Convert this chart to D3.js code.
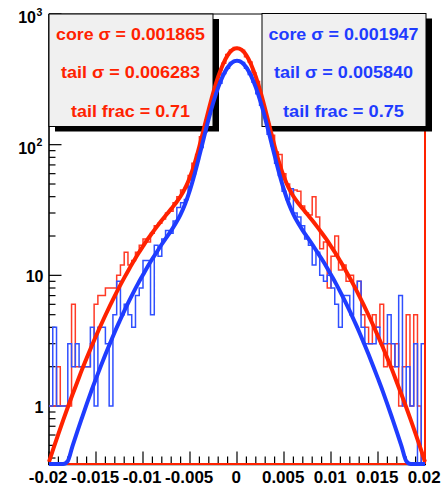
<!DOCTYPE html>
<html>
<head>
<meta charset="utf-8">
<script src="https://cdn.jsdelivr.net/npm/d3@7"></script>
<style>
  body { margin: 0; background: #fff; }
  svg { display: block; }
  text { font-family: "Liberation Sans", Arial, Helvetica, sans-serif; font-weight: bold; }
</style>
</head>
<body>
<svg id="chart" width="445" height="488"></svg>
<script>
// Residual distributions: two histograms (100 bins, -0.02..0.02) with double-Gaussian fits.
const binLow = -0.02;
const binWidth = 0.0004;

const redCounts = [
  1, 1, 2, 1, 1, 1, 6, 2, 2, 2,
  2, 3, 6, 7, 7, 8, 8, 8, 10, 12,
  15, 12, 13, 15, 17, 19, 18, 21, 24, 25,
  27, 30, 31, 36, 40, 45, 47, 58, 72, 84,
  115, 140, 190, 235, 300, 370, 420, 490, 530, 555,
  540, 528, 470, 430, 355, 305, 235, 190, 140, 118,
  88, 84, 60, 50, 42, 45, 44, 34, 30, 29,
  40, 28, 16, 18, 8, 14, 20, 11, 12, 9,
  10, 8, 9, 5, 4, 3, 5, 4, 6, 2,
  3, 2, 3, 1, 2, 5, 1, 5, 1, 0
];

const blueCounts = [
  1, 4, 1, 1, 1, 3, 2, 3, 2, 2,
  2, 4, 1, 4, 4, 3, 1, 5, 9, 5,
  6, 5, 4, 7, 8, 13, 13, 5, 17, 14,
  19, 22, 21, 26, 33, 36, 38, 54, 60, 78,
  95, 125, 155, 205, 255, 295, 350, 385, 425, 440,
  440, 425, 385, 345, 300, 245, 200, 160, 120, 98,
  72, 58, 44, 38, 46, 30, 28, 24, 19, 17,
  12, 15, 10, 9, 10, 8, 6, 4, 7, 7,
  5, 8, 9, 4, 3, 3, 3, 4, 3, 3,
  5, 3, 2, 7, 1, 2, 1, 3, 0, 3
];

// Fit curves sampled every 0.0005 from -0.02 to 0.02
const fitStep = 0.0005;
const redFit = [
  0.374, 0.48, 0.613, 0.777, 0.979, 1.225, 1.52, 1.89, 2.32, 2.83,
  3.43, 4.13, 4.95, 5.89, 6.97, 8.19, 9.56, 11.1, 12.8, 14.7,
  16.7, 18.9, 21.2, 23.7, 26.4, 29.2, 32.3, 35.8, 40.3, 46.7,
  56.6, 72.4, 97.4, 135, 187, 254, 331, 411, 482, 531,
  548,
  531, 482, 411, 331, 254, 187, 135, 97.4, 72.4, 56.6,
  46.7, 40.3, 35.8, 32.3, 29.2, 26.4, 23.7, 21.2, 18.9, 16.7,
  14.7, 12.8, 11.1, 9.56, 8.19, 6.97, 5.89, 4.95, 4.13, 3.43,
  2.83, 2.32, 1.89, 1.52, 1.225, 0.979, 0.777, 0.613, 0.48, 0.374
];
const blueFit = [
  0.125, 0.165, 0.22, 0.291, 0.38, 0.494, 0.635, 0.81, 1.03, 1.30,
  1.62, 2.01, 2.48, 3.03, 3.69, 4.44, 5.32, 6.32, 7.45, 8.72,
  10.1, 11.7, 13.4, 15.2, 17.3, 19.5, 22.0, 25.1, 29.3, 35.5,
  45.1, 60.0, 82.6, 115, 159, 213, 274.5, 336, 389.5, 426,
  439,
  426, 389.5, 336, 274.5, 213, 159, 115, 82.6, 60.0, 45.1,
  35.5, 29.3, 25.1, 22.0, 19.5, 17.3, 15.2, 13.4, 11.7, 10.1,
  8.72, 7.45, 6.32, 5.32, 4.44, 3.69, 3.03, 2.48, 2.01, 1.62,
  1.30, 1.03, 0.81, 0.635, 0.494, 0.38, 0.291, 0.22, 0.165, 0.125
];

const redLegend = ["core \u03c3 = 0.001865", "tail \u03c3 = 0.006283", "tail frac = 0.71"];
const blueLegend = ["core \u03c3 = 0.001947", "tail \u03c3 = 0.005840", "tail frac = 0.75"];

const xTicks = [-0.02, -0.015, -0.01, -0.005, 0, 0.005, 0.01, 0.015, 0.02];
const xTickLabels = ["-0.02", "-0.015", "-0.01", "-0.005", "0", "0.005", "0.01", "0.015", "0.02"];
const yDecades = [1, 10, 100, 1000];
const yBase = ["1", "10", "10", "10"];
const yExp = ["", "", "2", "3"];

const RED = "#ff2200", BLUE = "#1f3cff";
const RED_H = "#ff3a26", BLUE_H = "#3050ff";

const yMin = 0.36, yMax = 1000;
const svg = d3.select("#chart");
const x = d3.scaleLinear().domain([-0.02, 0.02]).range([49, 425]);
const y = d3.scaleLog().domain([yMin, yMax]).range([464, 14]);
const yc = v => y(Math.max(v, yMin));

svg.append("rect").attr("width", 445).attr("height", 488).attr("fill", "#fff");

// frame
const frame = svg.append("g").attr("stroke", "#000").attr("fill", "none");
frame.append("line").attr("x1", 49).attr("x2", 425).attr("y1", 14).attr("y2", 14).attr("stroke-width", 1);
frame.append("line").attr("x1", 424.5).attr("x2", 424.5).attr("y1", 14).attr("y2", 464).attr("stroke-width", 1);
frame.append("line").attr("x1", 49).attr("x2", 49).attr("y1", 14).attr("y2", 465).attr("stroke-width", 1.6);
frame.append("line").attr("x1", 48).attr("x2", 426).attr("y1", 464.5).attr("y2", 464.5).attr("stroke-width", 1.6);

// x ticks
const xMinor = d3.range(-20, 21).map(i => i * 0.001);
const tg = svg.append("g").attr("stroke", "#000").attr("stroke-width", 1.2);
xMinor.forEach(v => {
  const major = xTicks.some(t => Math.abs(t - v) < 1e-9);
  tg.append("line").attr("x1", x(v)).attr("x2", x(v))
    .attr("y1", 464).attr("y2", 464 - (major ? 12.5 : 7.5));
});
// y ticks
yDecades.forEach(d => {
  tg.append("line").attr("x1", 49).attr("x2", 61.5).attr("y1", y(d)).attr("y2", y(d));
});
[0.1, 1, 10, 100].forEach(d => {
  for (let m = 2; m <= 9; m++) {
    const v = d * m;
    if (v < yMin || v > yMax) continue;
    tg.append("line").attr("x1", 49).attr("x2", 55.5).attr("y1", y(v)).attr("y2", y(v));
  }
});

// histograms
function histPoints(counts) {
  const pts = counts.map((c, i) => [binLow + i * binWidth, c]);
  pts.push([binLow + counts.length * binWidth, counts[counts.length - 1]]);
  return pts;
}
const histLine = d3.line().x(d => x(d[0])).y(d => yc(d[1])).curve(d3.curveStepAfter);
svg.append("path").attr("d", histLine(histPoints(redCounts)))
  .attr("fill", "none").attr("stroke", RED_H).attr("stroke-width", 1.5);
svg.append("path").attr("d", histLine(histPoints(blueCounts)))
  .attr("fill", "none").attr("stroke", BLUE_H).attr("stroke-width", 1.5);

// red histogram outline along the bottom and right edge
svg.append("line").attr("x1", 49).attr("x2", 425).attr("y1", 464).attr("y2", 464)
  .attr("stroke", RED).attr("stroke-width", 2);
svg.append("line").attr("x1", 425).attr("x2", 425).attr("y1", 14).attr("y2", 464)
  .attr("stroke", RED).attr("stroke-width", 2);

// legend boxes with drop shadows
function legendBox(x0, y0, w, h, lines, color, lengths) {
  svg.append("rect").attr("x", x0 + 6.5).attr("y", y0 + 5.5).attr("width", w).attr("height", h).attr("fill", "#000");
  svg.append("rect").attr("x", x0 + 0.5).attr("y", y0 + 0.5).attr("width", w).attr("height", h)
    .attr("fill", "#f0f0f0").attr("stroke", "#000").attr("stroke-width", 1);
  const cx = x0 + w / 2;
  const baselines = [40, 78, 116.5];
  lines.forEach((t, i) => {
    svg.append("text").attr("x", cx).attr("y", baselines[i]).attr("text-anchor", "middle")
      .attr("font-size", 17).attr("fill", color)
      .attr("textLength", lengths[i]).attr("lengthAdjust", "spacingAndGlyphs")
      .text(t);
  });
}
legendBox(48.5, 13.5, 164, 112.5, redLegend, RED, [149, 139, 119]);
legendBox(261.5, 13, 164, 113, blueLegend, BLUE, [150, 139, 121]);

// fit curves
const fitLine = d3.line().x((d, i) => x(-0.02 + i * fitStep)).y(d => yc(d)).curve(d3.curveMonotoneX);
svg.append("path").attr("d", fitLine(redFit)).attr("fill", "none")
  .attr("stroke", RED).attr("stroke-width", 4).attr("stroke-linejoin", "round");
svg.append("path").attr("d", fitLine(blueFit)).attr("fill", "none")
  .attr("stroke", BLUE).attr("stroke-width", 4).attr("stroke-linejoin", "round");

// x tick labels
xTicks.forEach((t, i) => {
  svg.append("text").attr("x", x(t) - 0.8).attr("y", 483).attr("text-anchor", "middle")
    .attr("font-size", 17).attr("fill", "#000").text(xTickLabels[i]);
});

// y tick labels
yDecades.forEach((d, i) => {
  const yy = y(d);
  if (yExp[i]) {
    svg.append("text").attr("x", 36).attr("y", yy + 9).attr("text-anchor", "end")
      .attr("font-size", 16).attr("fill", "#000").text(yBase[i]);
    svg.append("text").attr("x", 36.5).attr("y", yy + 1.8).attr("text-anchor", "start")
      .attr("font-size", 10.5).attr("fill", "#000").text(yExp[i]);
  } else {
    svg.append("text").attr("x", 43.5).attr("y", yy + 6.5).attr("text-anchor", "end")
      .attr("font-size", 16).attr("fill", "#000").text(yBase[i]);
  }
});
</script>
</body>
</html>
